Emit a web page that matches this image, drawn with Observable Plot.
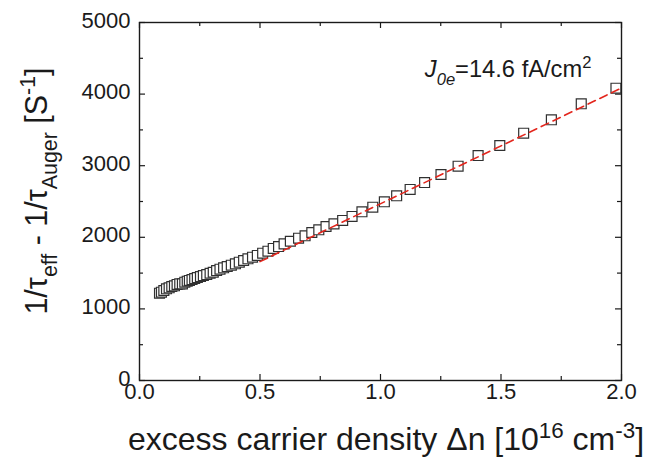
<!DOCTYPE html>
<html>
<head>
<meta charset="utf-8">
<script src="https://cdn.jsdelivr.net/npm/d3@7"></script>
<script src="https://cdn.jsdelivr.net/npm/@observablehq/plot@0.6"></script>
<style>
  html, body { margin: 0; padding: 0; background: #fff; }
  #chart svg { display: block; }
</style>
</head>
<body>
<div id="chart"></div>
<script>
// ---- data ----
const dn = [0.083, 0.091, 0.101, 0.112, 0.123, 0.134, 0.145, 0.156, 0.167, 0.178,
  0.188, 0.198, 0.207, 0.218, 0.229, 0.240, 0.253, 0.265, 0.279, 0.293,
  0.306, 0.320, 0.334, 0.349, 0.364, 0.381, 0.398, 0.414, 0.432, 0.450,
  0.469, 0.489, 0.511, 0.533, 0.555, 0.577, 0.600, 0.626, 0.660, 0.687,
  0.715, 0.744, 0.774, 0.807, 0.843, 0.882, 0.923, 0.968, 1.016, 1.067,
  1.123, 1.183, 1.251, 1.322, 1.405, 1.495, 1.594, 1.709, 1.833, 1.977];
const rate = [1219, 1233, 1257, 1281, 1295, 1313, 1323, 1341, 1350, 1350,
  1373, 1387, 1397, 1410, 1424, 1438, 1452, 1466, 1480, 1498,
  1512, 1536, 1554, 1574, 1592, 1610, 1630, 1652, 1676, 1700,
  1722, 1746, 1778, 1806, 1844, 1871, 1909, 1945, 1987, 2021,
  2067, 2105, 2151, 2188, 2235, 2291, 2356, 2420, 2496, 2580,
  2668, 2765, 2877, 2993, 3142, 3282, 3454, 3641, 3865, 4082];
const fitX = [0.5, 2.0];
const fitY = [1660, 4085];
const xMajor = [0, 0.5, 1.0, 1.5, 2.0];
const xMinor = [0.25, 0.75, 1.25, 1.75];
const yMajor = [0, 1000, 2000, 3000, 4000, 5000];
const yMinor = [500, 1500, 2500, 3500, 4500];
const annotation = {x: 1.186, y: 4230};

const points = dn.map((d, i) => ({x: d, y: rate[i]}));
const fit = fitX.map((d, i) => ({x: d, y: fitY[i]}));

// ---- layout ----
const W = 647, H = 458;
const mL = 139, mR = 26, mT = 22, mB = 78;
const innerW = W - mL - mR, innerH = H - mT - mB;
const ink = "#1a1a1a";
const font = "'Liberation Sans', Arial, Helvetica, sans-serif";

const major = 6, minor = 4;
const plot = Plot.plot({
  width: W, height: H,
  marginLeft: mL, marginRight: mR, marginTop: mT, marginBottom: mB,
  style: {fontFamily: font, fontSize: "22px", color: ink, background: "#fff", overflow: "visible"},
  x: {domain: [0, 2], label: null},
  y: {domain: [0, 5000], label: null},
  marks: [
    // inward ticks: bottom / top / left / right
    Plot.tickX(xMajor, {x: d => d, insetTop: innerH - major, stroke: ink, strokeWidth: 1.2}),
    Plot.tickX(xMinor, {x: d => d, insetTop: innerH - minor, stroke: ink, strokeWidth: 1.2}),
    Plot.tickX(xMajor, {x: d => d, insetBottom: innerH - major, stroke: ink, strokeWidth: 1.2}),
    Plot.tickX(xMinor, {x: d => d, insetBottom: innerH - minor, stroke: ink, strokeWidth: 1.2}),
    Plot.tickY(yMajor, {y: d => d, insetRight: innerW - major, stroke: ink, strokeWidth: 1.2}),
    Plot.tickY(yMinor, {y: d => d, insetRight: innerW - minor, stroke: ink, strokeWidth: 1.2}),
    Plot.tickY(yMajor, {y: d => d, insetLeft: innerW - major, stroke: ink, strokeWidth: 1.2}),
    Plot.tickY(yMinor, {y: d => d, insetLeft: innerW - minor, stroke: ink, strokeWidth: 1.2}),
    Plot.axisX(xMajor, {tickSize: 0, tickPadding: 3, tickFormat: d => d.toFixed(1), fontSize: 22, label: null}),
    Plot.axisY(yMajor, {tickSize: 0, tickPadding: 9, tickFormat: d => String(d), fontSize: 22, label: null, dy: -2}),
    Plot.dot(points, {x: "x", y: "y", symbol: "square", r: 5.6, stroke: "#303030", strokeWidth: 1.2, fill: "#fff"}),
    Plot.line(fit, {x: "x", y: "y", stroke: "#e3261d", strokeWidth: 1.6, strokeDasharray: "8,5"}),
    Plot.frame({stroke: ink, strokeWidth: 1.4})
  ]
});
document.getElementById("chart").appendChild(plot);

// ---- rich text (sub/superscripts) ----
const svg = d3.select(plot);
function rich(sel, parts, size) {
  let shift = 0;
  parts.forEach(p => {
    const small = p.s === "sub" || p.s === "sup";
    const target = p.s === "sub" ? size * 0.33 : p.s === "sup" ? -size * 0.38 : 0;
    const ts = sel.append("tspan").text(p.t)
      .attr("dy", target - shift)
      .attr("font-size", small ? size * 0.7 : size);
    if (p.i) ts.attr("font-style", "italic");
    shift = target;
  });
}

// x-axis title
const xt = svg.append("text")
  .attr("x", 386).attr("y", 450)
  .attr("text-anchor", "middle")
  .attr("fill", ink).attr("font-family", font).attr("font-size", 32);
rich(xt, [{t: "excess carrier density \u0394n [10"}, {t: "16", s: "sup"}, {t: " cm"}, {t: "-3", s: "sup"}, {t: "]"}], 32);

// y-axis title
const yt = svg.append("text")
  .attr("transform", "translate(47,191) rotate(-90)")
  .attr("text-anchor", "middle")
  .attr("fill", ink).attr("font-family", font).attr("font-size", 30.5);
rich(yt, [{t: "1/\u03c4"}, {t: "eff", s: "sub"}, {t: " - 1/\u03c4"}, {t: "Auger", s: "sub"}, {t: " [S"}, {t: "-1", s: "sup"}, {t: "]"}], 30.5);

// annotation
const sx = plot.scale("x"), sy = plot.scale("y");
const an = svg.append("text")
  .attr("x", sx.apply(annotation.x)).attr("y", sy.apply(annotation.y))
  .attr("text-anchor", "start")
  .attr("fill", ink).attr("font-family", font).attr("font-size", 23.7);
rich(an, [{t: "J", i: true}, {t: "0e", s: "sub", i: true}, {t: "=14.6 fA/cm"}, {t: "2", s: "sup"}], 23.7);
</script>
</body>
</html>
